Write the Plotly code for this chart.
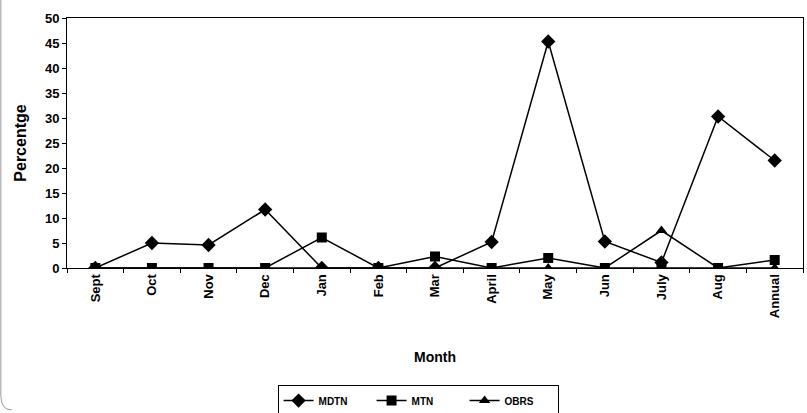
import plotly.graph_objects as go

months = ["Sept", "Oct", "Nov", "Dec", "Jan", "Feb", "Mar", "April", "May", "Jun", "July", "Aug", "Annual"]
mdtn = [0, 5.0, 4.6, 11.7, 0, 0, 0, 5.2, 45.3, 5.3, 1.1, 30.3, 21.5]
mtn = [0, 0, 0, 0, 6.1, 0, 2.3, 0, 2.0, 0, 0, 0, 1.6]
obrs = [0, 0, 0, 0, 0, 0, 0, 0, 0, 0, 7.5, 0, 0]
y_ticks = [0, 5, 10, 15, 20, 25, 30, 35, 40, 45, 50]

font_family = "Liberation Sans, Arial, sans-serif"

fig = go.Figure()
series = [
    ("MDTN", mdtn, "diamond", 11),
    ("MTN", mtn, "square", 10),
    ("OBRS", obrs, "triangle-up", 10),
]
for name, vals, sym, size in series:
    fig.add_trace(go.Scatter(
        x=months, y=vals, name=name, mode="lines+markers",
        line=dict(color="black", width=1.5),
        marker=dict(symbol=sym, size=size, color="black"),
    ))

fig.update_layout(
    width=807, height=413,
    margin=dict(l=67, r=4, t=18, b=145, autoexpand=False),
    paper_bgcolor="white", plot_bgcolor="white",
    font=dict(family=font_family, color="black"),
    showlegend=True,
    legend=dict(
        orientation="h", x=0.477, xanchor="center",
        yref="container", y=0.03, yanchor="middle",
        bordercolor="black", borderwidth=1,
        font=dict(size=10, family=font_family, weight="bold"),
        itemwidth=30, entrywidth=48, entrywidthmode="pixels",
        tracegroupgap=0,
    ),
    xaxis=dict(
        type="category", range=[-0.5, 12.5], automargin=False,
        tickangle=-90, ticks="outside", ticklen=4, tickcolor="black",
        tickson="boundaries",
        tickfont=dict(size=13, family=font_family, weight="bold"),
        showline=True, linecolor="black", linewidth=1, mirror=True,
        showgrid=False, zeroline=False,
        title=dict(text="Month", font=dict(size=14, family=font_family, weight="bold"), standoff=34),
    ),
    yaxis=dict(
        range=[0, 50], tickvals=y_ticks, automargin=False,
        ticks="outside", ticklen=4, tickcolor="black",
        tickfont=dict(size=13, family=font_family, weight="bold"),
        showline=True, linecolor="black", linewidth=1, mirror=True,
        showgrid=False, zeroline=False,
        title=dict(text="Percentge", font=dict(size=16, family=font_family, weight="bold"), standoff=14),
    ),
)

# outer frame edge along the left side with a rounded bottom corner
fig.add_shape(
    type="path", xref="paper", yref="paper",
    path="M -0.0899 1.08 L -0.0899 -0.51 Q -0.0899 -0.568 -0.075 -0.568",
    line=dict(color="#999999", width=1),
)

fig.write_html("out.html")
